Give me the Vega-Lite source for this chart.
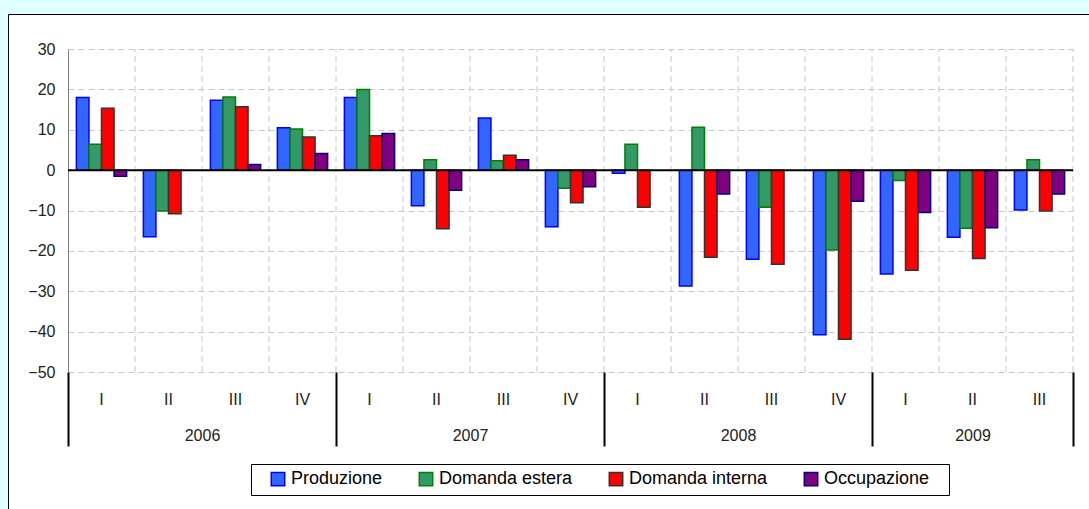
{
  "$schema": "https://vega.github.io/schema/vega-lite/v6.json",
  "autosize": {"type": "none"},
  "padding": {"left": 8, "top": 14, "right": 0, "bottom": 0},
  "width": 1081,
  "height": 495,
  "background": "#E0FFFF",
  "config": {
    "view": {"fill": "white", "stroke": "black", "strokeWidth": 1},
    "font": "Liberation Sans",
    "axis": {"labelFont": "Liberation Sans", "labelFontSize": 16, "labelColor": "#222222"}
  },
  "layer": [
    {
      "data": {
        "values": [
          {"confine": 1}, {"confine": 2}, {"confine": 3}, {"confine": 4}, {"confine": 5},
          {"confine": 6}, {"confine": 7}, {"confine": 8}, {"confine": 9}, {"confine": 10},
          {"confine": 11}, {"confine": 12}, {"confine": 13}, {"confine": 14}, {"confine": 15}
        ]
      },
      "mark": {"type": "rule", "color": "#C8C8C8", "strokeWidth": 1, "strokeDash": [6, 4]},
      "encoding": {
        "x": {
          "field": "confine", "type": "quantitative",
          "scale": {"domain": [0, 15], "range": [60, 1065], "nice": false, "zero": false},
          "axis": null
        },
        "y": {"datum": -50, "type": "quantitative"},
        "y2": {"datum": 30}
      }
    },
    {
      "data": {
        "values": [
          {"q": "2006-I", "serie": "Produzione", "valore": 18.0},
          {"q": "2006-I", "serie": "Domanda estera", "valore": 6.4},
          {"q": "2006-I", "serie": "Domanda interna", "valore": 15.3},
          {"q": "2006-I", "serie": "Occupazione", "valore": -1.5},
          {"q": "2006-II", "serie": "Produzione", "valore": -16.5},
          {"q": "2006-II", "serie": "Domanda estera", "valore": -10.1},
          {"q": "2006-II", "serie": "Domanda interna", "valore": -10.8},
          {"q": "2006-III", "serie": "Produzione", "valore": 17.3},
          {"q": "2006-III", "serie": "Domanda estera", "valore": 18.1},
          {"q": "2006-III", "serie": "Domanda interna", "valore": 15.7},
          {"q": "2006-III", "serie": "Occupazione", "valore": 1.4},
          {"q": "2006-IV", "serie": "Produzione", "valore": 10.5},
          {"q": "2006-IV", "serie": "Domanda estera", "valore": 10.2},
          {"q": "2006-IV", "serie": "Domanda interna", "valore": 8.2},
          {"q": "2006-IV", "serie": "Occupazione", "valore": 4.1},
          {"q": "2007-I", "serie": "Produzione", "valore": 18.0},
          {"q": "2007-I", "serie": "Domanda estera", "valore": 20.0},
          {"q": "2007-I", "serie": "Domanda interna", "valore": 8.5},
          {"q": "2007-I", "serie": "Occupazione", "valore": 9.1},
          {"q": "2007-II", "serie": "Produzione", "valore": -8.8},
          {"q": "2007-II", "serie": "Domanda estera", "valore": 2.6},
          {"q": "2007-II", "serie": "Domanda interna", "valore": -14.5},
          {"q": "2007-II", "serie": "Occupazione", "valore": -5.0},
          {"q": "2007-III", "serie": "Produzione", "valore": 12.9},
          {"q": "2007-III", "serie": "Domanda estera", "valore": 2.3},
          {"q": "2007-III", "serie": "Domanda interna", "valore": 3.7},
          {"q": "2007-III", "serie": "Occupazione", "valore": 2.6},
          {"q": "2007-IV", "serie": "Produzione", "valore": -14.0},
          {"q": "2007-IV", "serie": "Domanda estera", "valore": -4.5},
          {"q": "2007-IV", "serie": "Domanda interna", "valore": -8.1},
          {"q": "2007-IV", "serie": "Occupazione", "valore": -4.1},
          {"q": "2008-I", "serie": "Produzione", "valore": -0.8},
          {"q": "2008-I", "serie": "Domanda estera", "valore": 6.4},
          {"q": "2008-I", "serie": "Domanda interna", "valore": -9.2},
          {"q": "2008-II", "serie": "Produzione", "valore": -28.7},
          {"q": "2008-II", "serie": "Domanda estera", "valore": 10.6},
          {"q": "2008-II", "serie": "Domanda interna", "valore": -21.6},
          {"q": "2008-II", "serie": "Occupazione", "valore": -5.9},
          {"q": "2008-III", "serie": "Produzione", "valore": -22.1},
          {"q": "2008-III", "serie": "Domanda estera", "valore": -9.2},
          {"q": "2008-III", "serie": "Domanda interna", "valore": -23.3},
          {"q": "2008-IV", "serie": "Produzione", "valore": -40.8},
          {"q": "2008-IV", "serie": "Domanda estera", "valore": -19.8},
          {"q": "2008-IV", "serie": "Domanda interna", "valore": -41.9},
          {"q": "2008-IV", "serie": "Occupazione", "valore": -7.7},
          {"q": "2009-I", "serie": "Produzione", "valore": -25.7},
          {"q": "2009-I", "serie": "Domanda estera", "valore": -2.6},
          {"q": "2009-I", "serie": "Domanda interna", "valore": -24.8},
          {"q": "2009-I", "serie": "Occupazione", "valore": -10.5},
          {"q": "2009-II", "serie": "Produzione", "valore": -16.6},
          {"q": "2009-II", "serie": "Domanda estera", "valore": -14.4},
          {"q": "2009-II", "serie": "Domanda interna", "valore": -21.9},
          {"q": "2009-II", "serie": "Occupazione", "valore": -14.3},
          {"q": "2009-III", "serie": "Produzione", "valore": -9.9},
          {"q": "2009-III", "serie": "Domanda estera", "valore": 2.6},
          {"q": "2009-III", "serie": "Domanda interna", "valore": -10.1},
          {"q": "2009-III", "serie": "Occupazione", "valore": -5.9}
        ]
      },
      "mark": {"type": "bar", "strokeWidth": 1.5, "fillOpacity": 1},
      "encoding": {
        "x": {
          "field": "q", "type": "nominal", "sort": null,
          "scale": {
            "domain": ["2006-I","2006-II","2006-III","2006-IV","2007-I","2007-II","2007-III","2007-IV","2008-I","2008-II","2008-III","2008-IV","2009-I","2009-II","2009-III"],
            "range": [60, 1065], "paddingInner": 0, "paddingOuter": 0
          },
          "axis": {
            "orient": "bottom", "offset": -137, "title": null,
            "labelExpr": "split(datum.label, '-')[1]", "labelAngle": 0,
            "ticks": false, "tickSize": 0, "domain": false, "labelPadding": 19,
            "grid": false
          }
        },
        "xOffset": {
          "field": "serie", "type": "nominal",
          "scale": {"domain": ["Produzione", "Domanda estera", "Domanda interna", "Occupazione"], "paddingInner": 0, "paddingOuter": 0.667}
        },
        "y": {
          "field": "valore", "type": "quantitative",
          "scale": {"domain": [-50, 30], "nice": false, "zero": false, "range": [358, 35]},
          "axis": {
            "orient": "left", "offset": -60, "title": null,
            "values": [-50, -40, -30, -20, -10, 0, 10, 20, 30],
            "ticks": false, "tickSize": 0, "labelPadding": 13,
            "domain": true, "domainColor": "#808080", "domainWidth": 1,
            "grid": true, "gridDash": [6, 4], "gridColor": "#C8C8C8", "gridWidth": 1
          }
        },
        "fill": {
          "field": "serie", "type": "nominal",
          "scale": {"domain": ["Produzione", "Domanda estera", "Domanda interna", "Occupazione"], "range": ["#3366FF", "#339966", "#FF0000", "#800080"]},
          "legend": {
            "orient": "none", "direction": "horizontal", "legendX": 243, "legendY": 450,
            "title": null, "fillColor": "white", "strokeColor": "#000000", "padding": 6,
            "symbolType": "square", "symbolSize": 180, "symbolStrokeWidth": 1.5,
            "symbolOffset": 12, "labelOffset": 4,
            "labelFont": "Liberation Sans", "labelFontSize": 18, "labelColor": "#000000",
            "labelExpr": "datum.label == 'Occupazione' ? datum.label + '\u2800' : datum.label",
            "columnPadding": 22, "labelLimit": 300
          }
        },
        "stroke": {
          "field": "serie", "type": "nominal",
          "scale": {"domain": ["Produzione", "Domanda estera", "Domanda interna", "Occupazione"], "range": ["#0000FF", "#008000", "#333333", "#000080"]}
        }
      }
    },
    {
      "data": {
        "values": [
          {"anno": "2006", "inizio": 0, "fine": 4},
          {"anno": "2007", "inizio": 4, "fine": 8},
          {"anno": "2008", "inizio": 8, "fine": 12},
          {"anno": "2009", "inizio": 12, "fine": 15}
        ]
      },
      "mark": {"type": "rule", "color": "black", "strokeWidth": 2},
      "encoding": {
        "x": {
          "field": "inizio", "type": "quantitative",
          "scale": {"domain": [0, 15], "range": [60, 1065], "nice": false, "zero": false},
          "axis": {
            "orient": "bottom", "offset": -137, "title": null,
            "values": [0, 2, 4, 6, 8, 10, 12, 13.5, 15],
            "labelExpr": "datum.value == 2 ? '2006' : datum.value == 6 ? '2007' : datum.value == 10 ? '2008' : datum.value == 13.5 ? '2009' : ''",
            "labelOverlap": false, "labelFlush": false, "labelBound": false,
            "domain": false, "grid": false,
            "ticks": true, "tickSize": 74, "tickWidth": 2, "tickColor": "#000000",
            "tickOpacity": {"condition": {"test": "datum.value == 0 || datum.value == 4 || datum.value == 8 || datum.value == 12 || datum.value == 15", "value": 1}, "value": 0},
            "labelPadding": -19
          }
        },
        "x2": {"field": "fine"},
        "y": {"datum": 0, "type": "quantitative"}
      }
    }
  ],
  "resolve": {"scale": {"x": "independent"}, "axis": {"x": "independent"}}
}
